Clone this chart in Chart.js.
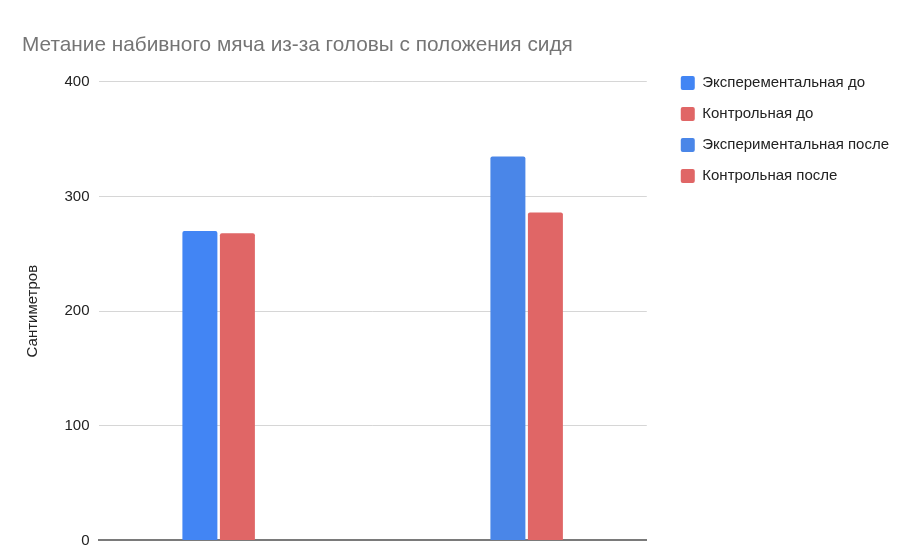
<!DOCTYPE html>
<html lang="ru">
<head>
<meta charset="utf-8">
<title>Метание набивного мяча</title>
<script src="https://cdn.jsdelivr.net/npm/chart.js@4.4.1/dist/chart.umd.min.js"></script>
<style>
  body { margin: 0; background: #fff; }
  canvas { display: block; }
</style>
</head>
<body>
<canvas id="chartThrow" width="905" height="555"></canvas>
<script>
// группы замеров на оси x: 0 - до эксперимента, 1 - после
const groups = [0, 1];

// результаты, см
const expBefore = [270, null];
const ctrlBefore = [268, null];
const expAfter = [null, 335];
const ctrlAfter = [null, 286];

const yMax = 400;
const yStep = 100;

Chart.defaults.font.family = "'Liberation Sans', Arial, sans-serif";
Chart.defaults.color = "#222";

const chart = new Chart("chartThrow", {
  type: "bar",
  data: {
    labels: groups,
    datasets: [
      {
        label: "Эксперементальная до",
        data: expBefore,
        backgroundColor: "#4285f4",
      },
      {
        label: "Контрольная до",
        data: ctrlBefore,
        backgroundColor: "#e06666",
      },
      {
        label: "Экспериментальная после",
        data: expAfter,
        backgroundColor: "#4a86e8",
      },
      {
        label: "Контрольная после",
        data: ctrlAfter,
        backgroundColor: "#e06666",
      },
    ],
  },
  options: {
    responsive: false,
    animation: false,
    layout: {
      padding: { left: 22, right: 6, top: 0, bottom: 9 },
    },
    datasets: {
      bar: {
        skipNull: true,
        categoryPercentage: 0.2435,
        barPercentage: 0.933,
        borderRadius: 2,
      },
    },
    plugins: {
      title: {
        display: true,
        text: "Метание набивного мяча из-за головы с положения сидя",
        align: "start",
        color: "#757575",
        font: { size: 20.8, weight: "normal" },
        padding: { top: 33, bottom: 24 },
      },
      legend: {
        position: "right",
        align: "start",
        maxWidth: 260,
        // пустой заголовок опускает пункты легенды до уровня графика
        title: {
          display: true,
          text: "",
          font: { size: 14 },
          padding: { top: 42.7, bottom: 0 },
        },
        labels: {
          boxWidth: 14,
          boxHeight: 14,
          padding: 16,
          color: "#222",
          font: { size: 15 },
          useBorderRadius: true,
          borderRadius: 2,
        },
      },
      tooltip: { enabled: false },
    },
    scales: {
      x: {
        type: "linear",
        min: -0.39,
        max: 1.39,
        offset: false,
        ticks: { display: false, stepSize: 1, includeBounds: false },
        grid: { display: false, drawTicks: false, offset: false },
        border: { display: true, color: "#7a7a7a", width: 2 },
      },
      y: {
        min: 0,
        max: yMax,
        ticks: {
          stepSize: yStep,
          padding: 9,
          color: "#222",
          font: { size: 15, lineHeight: 0.75 },
        },
        grid: { color: "#d6d6d6", drawTicks: false },
        border: { display: false },
        title: {
          display: true,
          text: "Сантиметров",
          color: "#222",
          font: { size: 15 },
          padding: { top: 1.5, bottom: 14 },
        },
      },
      // пустая ось справа - отступ между графиком и легендой
      y2: {
        axis: "y",
        position: "right",
        ticks: { display: false },
        grid: { display: false, drawTicks: false },
        border: { display: false },
        afterFit: (scale) => {
          scale.width = 18;
        },
      },
    },
  },
});
</script>
</body>
</html>
